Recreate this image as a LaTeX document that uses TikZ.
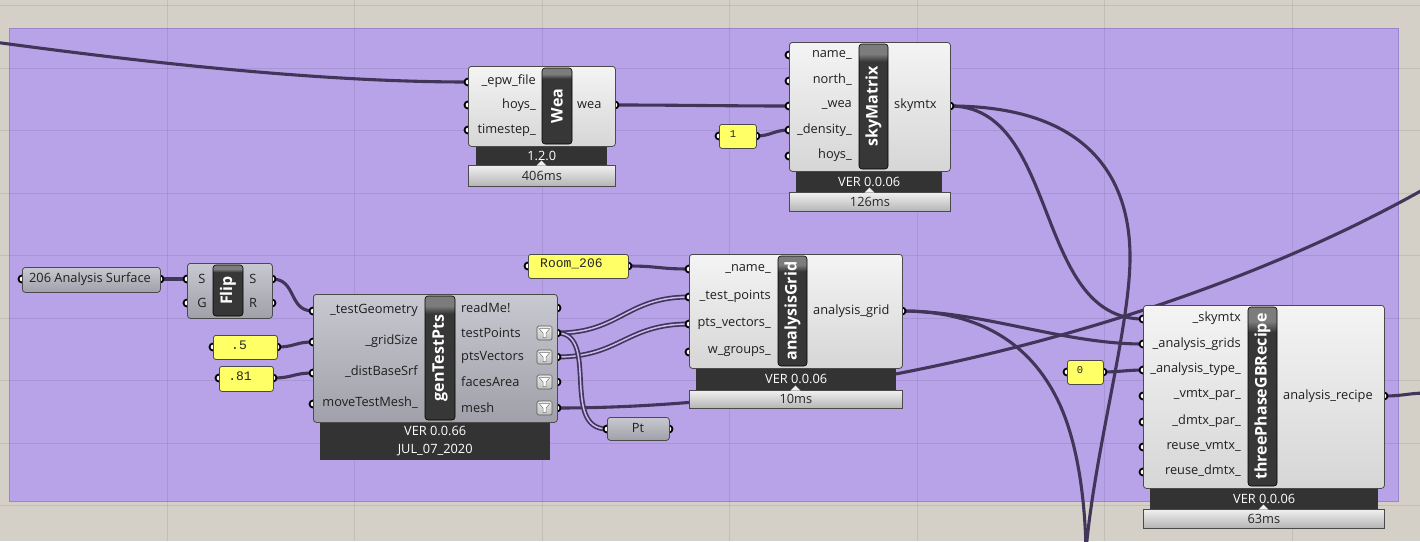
\documentclass[tikz,border=0pt]{standalone}
\usepackage{fontspec}
\setmainfont{Open Sans}
\newfontfamily\panelfont{Liberation Mono}
\pgfdeclarelayer{bg}
\pgfdeclarelayer{wires}
\pgfsetlayers{bg,wires,main}
\definecolor{canvas}{HTML}{D4D0C8}
\definecolor{groupc}{HTML}{B8A2E8}
\definecolor{groupedge}{HTML}{9A86CC}
\definecolor{wirec}{HTML}{42355A}
\definecolor{listin}{HTML}{C9BBEF}
\definecolor{lbtop}{HTML}{F4F4F4}
\definecolor{lbbot}{HTML}{D6D6D6}
\definecolor{gbtop}{HTML}{C8C8D0}
\definecolor{gbbot}{HTML}{A0A0AA}
\definecolor{nbdark}{HTML}{373737}
\definecolor{nblight}{HTML}{7C7C7C}
\definecolor{vbarc}{HTML}{333333}
\definecolor{tbtop}{HTML}{F0F0F0}
\definecolor{tbbot}{HTML}{B4B4B4}
\definecolor{panelc}{HTML}{FFFF66}
\definecolor{edgec}{HTML}{4A4A4A}
\pgfdeclareverticalshading{nbshade}{100bp}{color(0bp)=(nbdark); color(25bp)=(nbdark); color(68bp)=(nbdark); color(71bp)=(nblight); color(75bp)=(nblight); color(100bp)=(nblight)}
\begin{document}
\begin{tikzpicture}[x=1pt,y=-1pt,
  lightbody/.style={draw=edgec, line width=0.8pt, rounded corners=3pt, top color=lbtop, bottom color=lbbot, inner sep=0pt, anchor=north west},
  graybody/.style={draw=edgec, line width=0.8pt, rounded corners=3pt, top color=gbtop, bottom color=gbbot, inner sep=0pt, anchor=north west},
  namebar/.style={draw=black, line width=0.6pt, rounded corners=3pt, shading=nbshade, inner sep=0pt},
  nametext/.style={rotate=90, text=white, font=\bfseries\fontsize{16}{16}\selectfont, inner sep=0pt},
  verbar/.style={fill=vbarc, inner sep=0pt, anchor=north west, text=white, font=\fontsize{12.8}{14}\selectfont},
  timebar/.style={draw=edgec, line width=0.8pt, top color=tbtop, bottom color=tbbot, inner sep=0pt, anchor=north west, text=black!85, font=\fontsize{12.8}{14}\selectfont},
  panelbox/.style={draw=edgec, line width=0.8pt, rounded corners=2.5pt, fill=panelc, inner sep=0pt, anchor=north west},
  ptext/.style={font=\panelfont\fontsize{13}{14}\selectfont, text=black!85, inner sep=0pt},
  ptextsm/.style={font=\panelfont\fontsize{10.5}{12}\selectfont, text=black!85, inner sep=0pt},
  port/.style={circle, draw=black, fill=white, line width=1.8pt, minimum size=7pt, inner sep=0pt},
  lblin/.style={anchor=east, inner sep=0pt, text=black!88, font=\fontsize{12.8}{14}\selectfont},
  lblout/.style={anchor=west, inner sep=0pt, text=black!88, font=\fontsize{12.8}{14}\selectfont},
  lblc/.style={inner sep=0pt, text=black!88, font=\fontsize{12.8}{14}\selectfont},
  wire/.style={draw=wirec, line width=3.1pt},
  listwire/.style={draw=wirec, line width=1.7pt, double=listin, double distance=1.5pt},
  gridl/.style={draw=black, opacity=0.08, line width=1pt},
  filtbox/.style={draw=black!65, line width=0.7pt, rounded corners=1.5pt, top color=black!8, bottom color=black!25, minimum width=15pt, minimum height=14pt, inner sep=0pt},
  notch/.style={fill=tbtop}
]
\useasboundingbox (0,0) rectangle (1420,541);
\begin{pgfonlayer}{bg}
  \fill[canvas] (0,0) rectangle (1420,541);
  \fill[groupc] (9,28) rectangle (1398,501);
  \draw[groupedge, line width=0.8pt] (9,28) rectangle (1398,501);
  \foreach \gx in {167,354.5,542,729.5,917,1104.5,1292} \draw[gridl] (\gx,0) -- (\gx,541);
  \foreach \gy in {5.5,68,130.5,193,255.5,318,380.5,443,505.5} \draw[gridl] (0,\gy) -- (1420,\gy);
\end{pgfonlayer}

% ---------- Wea ----------
\node[port] (wea-i1) at (468,82) {};
\node[port] (wea-i2) at (468,105) {};
\node[port] (wea-i3) at (468,130) {};
\node[port] (wea-o1) at (615,105) {};
\node[verbar, minimum width=131pt, minimum height=19pt] (wea-ver) at (476,146) {1.2.0};
\node[timebar, minimum width=147pt, minimum height=21pt] (wea-time) at (468,165) {406ms};
\fill[notch] (536.5,165.6) -- (541.5,160.5) -- (546.5,165.6) -- cycle;
\node[lightbody, minimum width=147pt, minimum height=80pt] (wea) at (468,66) {};
\node[namebar, minimum width=30pt, minimum height=76pt] (wea-nb) at (557,106) {};
\node[nametext] at (wea-nb) {Wea};
\node[lblin] at (536,81) {\_epw\_file};
\node[lblin] at (536,105) {hoys\_};
\node[lblin] at (536,130) {timestep\_};
\node[lblout] at (577,105) {wea};

% ---------- skyMatrix ----------
\node[port] (sky-i1) at (789,55) {};
\node[port] (sky-i2) at (789,81) {};
\node[port] (sky-i3) at (789,106) {};
\node[port] (sky-i4) at (789,130) {};
\node[port] (sky-i5) at (789,156) {};
\node[port] (sky-o1) at (950,106) {};
\node[verbar, minimum width=146pt, minimum height=21pt] (sky-ver) at (796,171) {VER 0.0.06};
\node[timebar, minimum width=161pt, minimum height=19pt] (sky-time) at (789,192) {126ms};
\fill[notch] (864.5,192.6) -- (869.5,187.5) -- (874.5,192.6) -- cycle;
\node[lightbody, minimum width=161pt, minimum height=129pt] (sky) at (789,42) {};
\node[namebar, minimum width=29pt, minimum height=125pt] (sky-nb) at (873.5,106.5) {};
\node[nametext] at (sky-nb) {skyMatrix};
\node[lblin] at (852,55) {name\_};
\node[lblin] at (852,80) {north\_};
\node[lblin] at (852,105) {\_wea};
\node[lblin] at (852,130) {\_density\_};
\node[lblin] at (852,155) {hoys\_};
\node[lblout] at (894,105) {skymtx};

% panel 1
\node[port] (p1-i) at (719,136) {};
\node[port] (p1-o) at (756,136) {};
\node[panelbox, minimum width=37pt, minimum height=24pt] (p1) at (719,124) {};
\node[ptextsm] at (733,134) {1};

% ---------- analysisGrid ----------
\node[port] (ag-i1) at (689,269) {};
\node[port] (ag-i2) at (689,297) {};
\node[port] (ag-i3) at (689,324) {};
\node[port] (ag-i4) at (689,352) {};
\node[port] (ag-o1) at (902,311) {};
\node[verbar, minimum width=200pt, minimum height=22pt] (ag-ver) at (696,368) {VER 0.0.06};
\node[timebar, minimum width=213pt, minimum height=18pt] (ag-time) at (689,390) {10ms};
\fill[notch] (790.5,390.6) -- (795.5,385.5) -- (800.5,390.6) -- cycle;
\node[lightbody, minimum width=213pt, minimum height=114pt] (ag) at (689,254) {};
\node[namebar, minimum width=29pt, minimum height=110pt] (ag-nb) at (792.5,311) {};
\node[nametext] at (ag-nb) {analysisGrid};
\node[lblin] at (771,269) {\_name\_};
\node[lblin] at (771,296) {\_test\_points};
\node[lblin] at (771,324) {pts\_vectors\_};
\node[lblin] at (771,352) {w\_groups\_};
\node[lblout] at (813,311) {analysis\_grid};

% Room_206 panel
\node[port] (room-i) at (528,266) {};
\node[port] (room-o) at (628,266) {};
\node[panelbox, minimum width=100pt, minimum height=24pt] (room) at (528,254) {};
\node[ptext, anchor=west] at (540,264) {Room\_206};

% ---------- genTestPts ----------
\node[port] (gt-i1) at (313,311) {};
\node[port] (gt-i2) at (313,342) {};
\node[port] (gt-i3) at (313,373) {};
\node[port] (gt-i4) at (313,404) {};
\node[port] (gt-o1) at (557,308) {};
\node[port] (gt-o2) at (557,333) {};
\node[port] (gt-o3) at (557,357) {};
\node[port] (gt-o4) at (557,382) {};
\node[port] (gt-o5) at (557,408) {};
\node[verbar, minimum width=230pt, minimum height=38pt, align=center, font=\fontsize{12.8}{18}\selectfont] (gt-ver) at (320,422) {VER 0.0.66\\JUL\_07\_2020};
\node[graybody, minimum width=244pt, minimum height=128pt] (gt) at (313,294) {};
\node[namebar, minimum width=30pt, minimum height=124pt] (gt-nb) at (440,358) {};
\node[nametext] at (gt-nb) {genTestPts};
\node[lblin] at (418,310) {\_testGeometry};
\node[lblin] at (418,341) {\_gridSize};
\node[lblin] at (418,372) {\_distBaseSrf};
\node[lblin] at (418,403) {moveTestMesh\_};
\node[lblout] at (461,308) {readMe!};
\node[lblout] at (461,333) {testPoints};
\node[lblout] at (461,357) {ptsVectors};
\node[lblout] at (461,382) {facesArea};
\node[lblout] at (461,408) {mesh};
\foreach \fy [count=\fk] in {333,357,382,408} {
  \node[filtbox] (gt-f\fk) at (544.5,\fy) {};
  \filldraw[fill=white, draw=black!55, line width=0.5pt] (539,\fy-4.5) -- (550,\fy-4.5) -- (546,\fy) -- (546,\fy+4.5) -- (543,\fy+4.5) -- (543,\fy) -- cycle;
}

% ---------- Flip ----------
\node[port] (flip-i1) at (187,279) {};
\node[port] (flip-i2) at (187,303) {};
\node[port] (flip-o1) at (272,279) {};
\node[port] (flip-o2) at (272,303) {};
\node[graybody, minimum width=85pt, minimum height=55pt] (flip) at (187,263) {};
\node[namebar, minimum width=30pt, minimum height=51pt] (flip-nb) at (228,290.5) {};
\node[nametext] at (flip-nb) {Flip};
\node[lblc] at (202,279) {S};
\node[lblc] at (202,303) {G};
\node[lblc] at (253,279) {S};
\node[lblc] at (253,303) {R};

% ---------- 206 Analysis Surface ----------
\node[port] (srf-i) at (22,279) {};
\node[port] (srf-o) at (160,279) {};
\node[graybody, minimum width=138pt, minimum height=25pt] (srf) at (22,267) {};
\node[lblc] at (90,279) {206 Analysis Surface};

% panels .5 and .81
\node[port] (p5-i) at (213,347) {};
\node[port] (p5-o) at (277,347) {};
\node[panelbox, minimum width=64pt, minimum height=24pt] (p5) at (213,335) {};
\node[ptext] at (239,345) {.5};
\node[port] (p81-i) at (219,378) {};
\node[port] (p81-o) at (273,378) {};
\node[panelbox, minimum width=54pt, minimum height=25pt] (p81) at (219,366) {};
\node[ptext] at (240,376) {.81};

% Pt
\node[port] (pt-i) at (607,429) {};
\node[port] (pt-o) at (669,429) {};
\node[graybody, minimum width=62pt, minimum height=23pt] (pt) at (607,417) {};
\node[lblc] at (638,428) {Pt};

% ---------- threePhaseGBRecipe ----------
\node[port] (tp-i1) at (1143,319) {};
\node[port] (tp-i2) at (1143,344) {};
\node[port] (tp-i3) at (1143,370) {};
\node[port] (tp-i4) at (1143,396) {};
\node[port] (tp-i5) at (1143,422) {};
\node[port] (tp-i6) at (1143,447) {};
\node[port] (tp-i7) at (1143,472) {};
\node[port] (tp-o1) at (1384,396) {};
\node[verbar, minimum width=228pt, minimum height=21pt] (tp-ver) at (1150,488) {VER 0.0.06};
\node[timebar, minimum width=241pt, minimum height=19pt] (tp-time) at (1143,509) {63ms};
\fill[notch] (1258.5,509.6) -- (1263.5,504.5) -- (1268.5,509.6) -- cycle;
\node[lightbody, minimum width=241pt, minimum height=183pt] (tp) at (1143,305) {};
\node[namebar, minimum width=29pt, minimum height=179pt] (tp-nb) at (1262.5,396.5) {};
\node[nametext] at (tp-nb) {threePhaseGBRecipe};
\node[lblin] at (1241,318) {\_skymtx};
\node[lblin] at (1241,344) {\_analysis\_grids};
\node[lblin] at (1241,369) {\_analysis\_type\_};
\node[lblin] at (1241,395) {\_vmtx\_par\_};
\node[lblin] at (1241,421) {\_dmtx\_par\_};
\node[lblin] at (1241,446) {reuse\_vmtx\_};
\node[lblin] at (1241,471) {reuse\_dmtx\_};
\node[lblout] at (1283,396) {analysis\_recipe};

% panel 0
\node[port] (p0-i) at (1067,372) {};
\node[port] (p0-o) at (1103,372) {};
\node[panelbox, minimum width=36pt, minimum height=24pt] (p0) at (1067,360) {};
\node[ptextsm] at (1080,370) {0};

% off-canvas ends
\coordinate (offL) at (-6,42);
\coordinate (offB) at (1086,550);
\coordinate (offTR) at (1440,180);
\coordinate (offR) at (1428,393);

% ---------- wires ----------
\begin{pgfonlayer}{wires}
  \draw[wire] (offL) .. controls (200,70) and (350,82) .. (wea-i1.center);
  \draw[wire] (wea-o1.center) .. controls +(60,0) and +(-60,0) .. (sky-i3.center);
  \draw[wire] (p1-o.center) .. controls +(15,0) and +(-15,0) .. (sky-i4.center);
  \draw[wire] (sky-o1.center) .. controls +(110,0) and +(-110,0) .. (tp-i1.center);
  \draw[wire] (sky-o1.center) .. controls +(130,0) and (1131,170) .. (1130,260) .. controls (1129,330) and (1095,450) .. (offB);
  \draw[wire] (ag-o1.center) .. controls +(80,0) and +(-80,0) .. (tp-i2.center);
  \draw[wire] (ag-o1.center) .. controls +(85,0) and (1035,350) .. (1060,405) .. controls (1078,445) and (1085,500) .. (offB);
  \draw[wire] (gt-o5.center) .. controls +(293,0) and (1200,320) .. (offTR);
  \draw[wire] (tp-o1.center) .. controls +(20,0) and +(-20,0) .. (offR);
  \draw[wire] (p0-o.center) .. controls +(15,0) and +(-15,0) .. (tp-i3.center);
  \draw[wire] (srf-o.center) -- (flip-i1.center);
  \draw[wire] (flip-o1.center) .. controls +(25,0) and +(-25,0) .. (gt-i1.center);
  \draw[wire] (p5-o.center) .. controls +(18,0) and +(-18,0) .. (gt-i2.center);
  \draw[wire] (p81-o.center) .. controls +(20,0) and +(-20,0) .. (gt-i3.center);
  \draw[wire] (room-o.center) .. controls +(30,0) and +(-30,0) .. (ag-i1.center);
  \draw[listwire] (gt-o2.center) .. controls +(63,0) and +(-63,0) .. (ag-i2.center);
  \draw[listwire] (gt-o3.center) .. controls +(63,0) and +(-63,0) .. (ag-i3.center);
  \draw[listwire] (gt-o2.center) .. controls +(43,0) and +(-47,0) .. (pt-i.center);
\end{pgfonlayer}
\end{tikzpicture}
\end{document}
